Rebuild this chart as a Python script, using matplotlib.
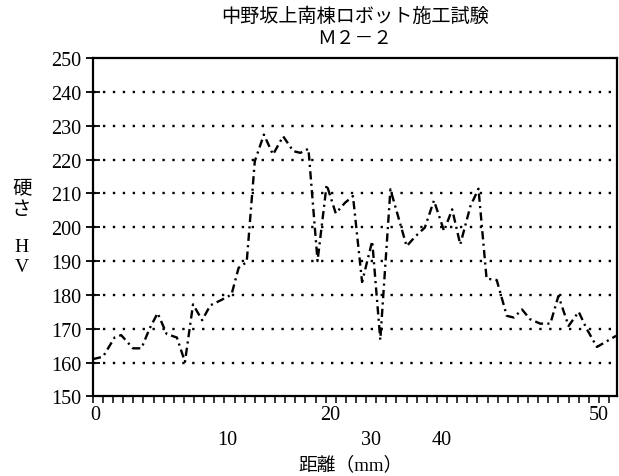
import matplotlib
matplotlib.use('Agg')

import matplotlib.pyplot as plt
import matplotlib.transforms as mtransforms

# hardness readings along the weld (distance mm, HV)
distance = [0.0, 1.0, 2.15, 2.8, 3.96, 4.8, 5.6, 6.4, 7.3, 8.3, 9.1, 9.9, 10.8,
            11.6, 12.7, 13.7, 14.4, 15.2, 16.0, 16.9, 17.8, 18.8, 19.8, 20.5,
            21.3, 22.2, 23.1, 24.0, 24.9, 25.7, 26.6, 27.6, 28.4, 29.4, 31.0,
            31.9, 32.8, 33.7, 34.7, 35.5, 36.3, 37.3, 38.1, 38.9, 39.9, 40.9,
            41.6, 42.4, 43.2, 44.2, 45.2, 46.0, 47.0, 48.0, 48.8, 49.8, 51.7]
hardness = [161.0, 161.7, 167.4, 168.1, 164.2, 164.2, 170.0, 174.6, 168.4, 167.4,
            160.2, 177.2, 172.5, 176.9, 178.5, 180.1, 188.0, 189.7, 219.5, 227.4,
            221.5, 226.9, 222.5, 222.0, 223.2, 190.0, 212.6, 204.1, 207.2, 209.2,
            183.8, 195.9, 166.7, 211.2, 194.4, 197.4, 199.9, 207.9, 198.9, 205.3,
            194.9, 206.2, 211.4, 184.8, 184.4, 173.8, 173.3, 175.7, 172.8, 171.5,
            171.5, 179.7, 170.8, 175.0, 169.9, 164.6, 167.9]

# x tick labels are printed in two staggered rows on the original sheet
xlabels_row1 = ['0', '20', '50']
xlabels_row1_at = [0.2, 23.4, 50.0]
xlabels_row2 = ['10', '30', '40']
xlabels_row2_at = [13.3, 27.5, 34.5]

FONT = ['Liberation Serif', 'Noto Sans CJK JP']
plt.rcParams['font.family'] = FONT

fig = plt.figure(figsize=(6.19, 4.77), dpi=100)
ax = fig.add_axes([0.150, 0.167, 0.847, 0.709])

ax.plot(distance, hardness, color='black', linewidth=1.7,
        linestyle=(0, (3.5, 1.8, 0.9, 1.8)))

ax.set_xlim(0, 51.8)
ax.set_ylim(150, 250)

# dotted grid
for level in range(160, 250, 10):
    ax.axhline(level, color='black', linewidth=1.7, linestyle=(0, (1, 3.2)), zorder=0)

ax.set_yticks(range(150, 251, 10))
ax.tick_params(axis='y', direction='inout', length=10, width=1.3, labelsize=14.5, pad=3)
ax.set_xticks(range(0, 52))
ax.tick_params(axis='x', direction='out', length=5, width=1.1, labelbottom=False)

for s in ax.spines.values():
    s.set_linewidth(1.6)

trans = mtransforms.blended_transform_factory(ax.transData, ax.transAxes)
for lab, pos in zip(xlabels_row1, xlabels_row1_at):
    ax.text(pos, -0.055, lab, transform=trans, ha='center', va='center', fontsize=14.5)
for lab, pos in zip(xlabels_row2, xlabels_row2_at):
    ax.text(pos, -0.128, lab, transform=trans, ha='center', va='center', fontsize=14.5)

fig.text(0.573, 1 - 17 / 477., '中野坂上南棟ロボット施工試験', ha='center', va='center', fontsize=13.8)
fig.text(0.573, 1 - 40 / 477., 'Ｍ２－２', ha='center', va='center', fontsize=13.5)
fig.text(0.566, 1 - 465 / 477., '距離（mm）', ha='center', va='center', fontsize=13.5)

# vertical y label, stacked characters
for ch, ypix in zip(['硬', 'さ', 'H', 'V'], [189, 210, 248, 268]):
    fig.text(22 / 619., 1 - ypix / 477., ch, ha='center', va='center', fontsize=14)

fig.savefig('out.png', dpi=100)
plt.close('all')
